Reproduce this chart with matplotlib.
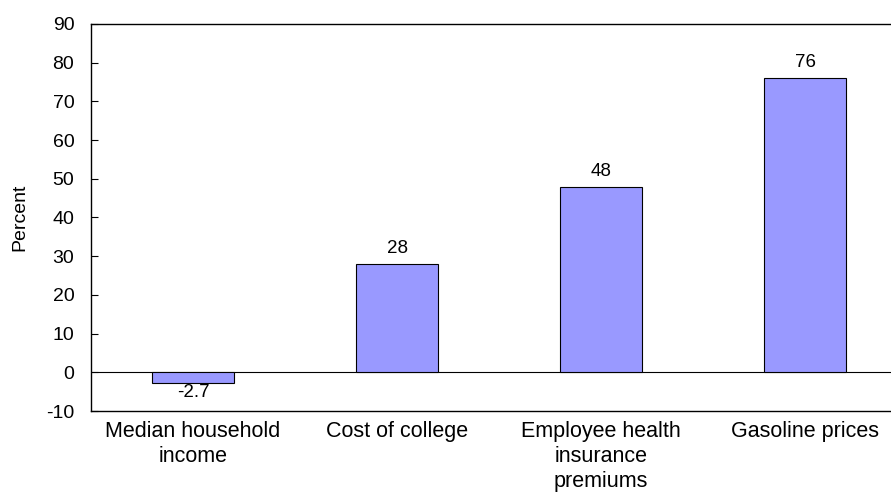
import matplotlib.pyplot as plt
import numpy as np

plt.rcParams['font.family'] = ['Liberation Sans', 'DejaVu Sans']
plt.rcParams['axes.unicode_minus'] = False

categories = ["Median household\nincome", "Cost of college",
              "Employee health\ninsurance\npremiums", "Gasoline prices"]
values = [-2.7, 28, 48, 76]
labels = ["-2.7", "28", "48", "76"]

fig = plt.figure(figsize=(8.91, 4.93), dpi=100)
ax = fig.add_axes([91 / 891, 1 - 411 / 493, (907 - 91) / 891, 387 / 493])

x = np.arange(len(categories))
ax.bar(x, values, width=0.4, color="#9999FF", edgecolor="black", linewidth=0.8, zorder=3)
ax.axhline(0, color="black", linewidth=0.8, zorder=2)

for xi, v, lab in zip(x, values, labels):
    if v >= 0:
        ax.text(xi, v + 1.8, lab, ha="center", va="bottom", fontsize=13.5)
    else:
        ax.text(xi, v - 0.2, lab, ha="center", va="top", fontsize=13.5)

ax.set_xlim(-0.5, len(categories) - 0.5)
ax.set_ylim(-10, 90)
ax.set_yticks(np.arange(-10, 91, 10))
ax.set_xticks(x)
ax.set_xticklabels(categories, fontsize=15.5, linespacing=1.25)
ax.tick_params(axis="x", length=0, pad=7)
ax.tick_params(axis="y", direction="in", length=5, labelsize=14, width=0.8, pad=12)
ax.set_ylabel("Percent", fontsize=14)
ax.yaxis.set_label_coords(-63 / 816, 0.5)
for s in ["left", "top", "bottom"]:
    ax.spines[s].set_linewidth(1.0)
ax.spines["right"].set_visible(False)

fig.savefig("out.png", dpi=100)
